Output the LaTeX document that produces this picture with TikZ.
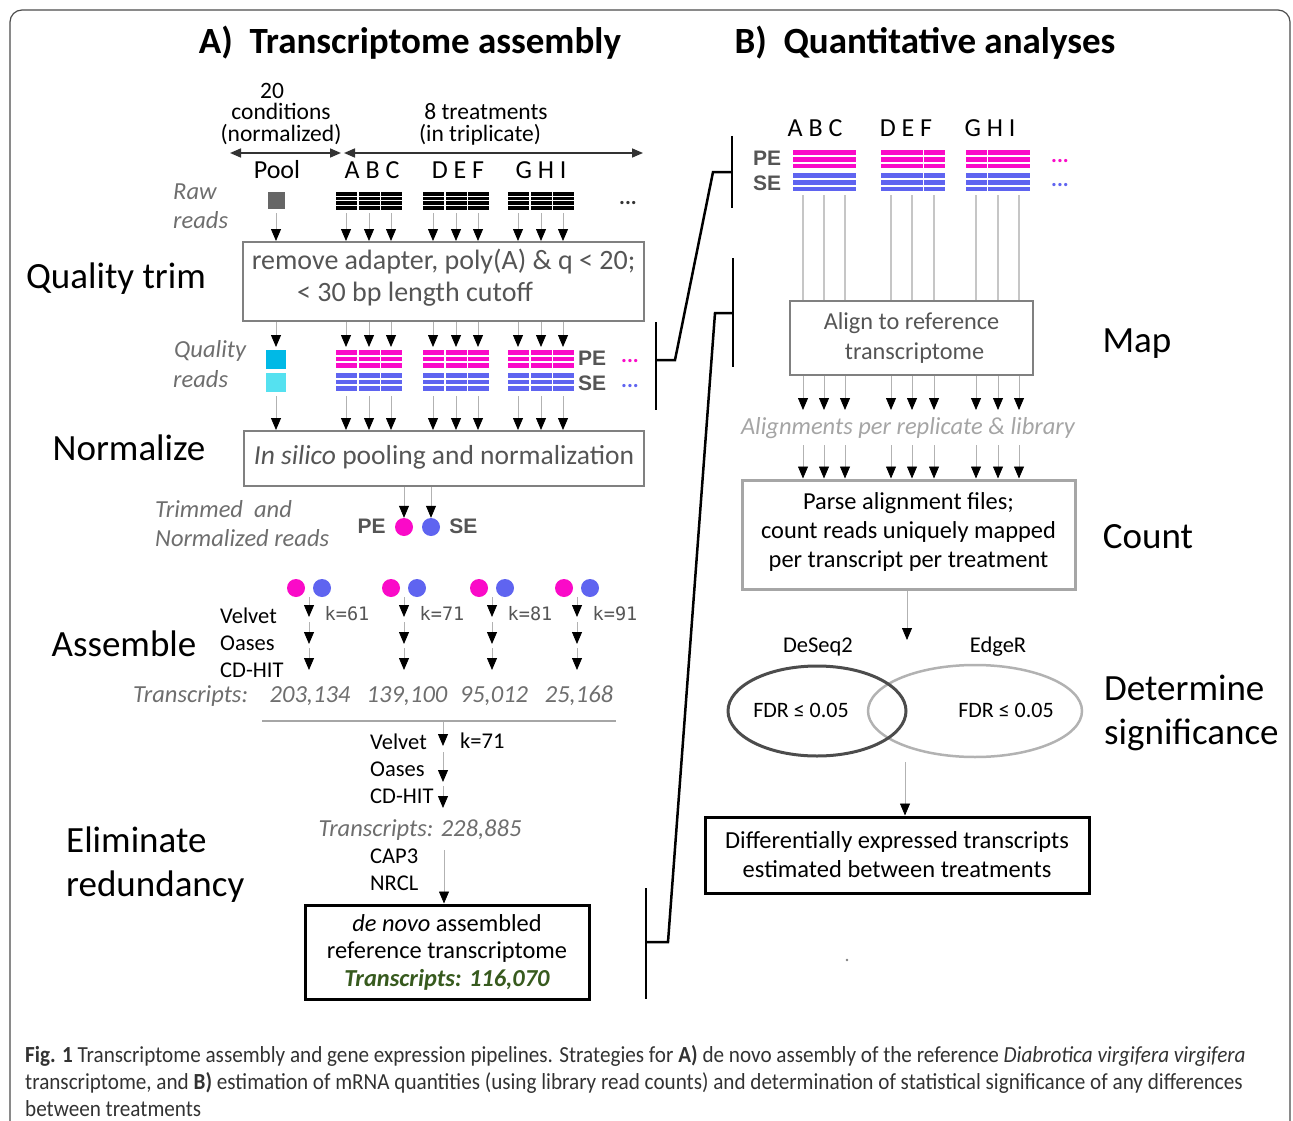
\documentclass[tikz,border=0pt]{standalone}
\usepackage{fontspec}
\setmainfont{Carlito}
\newfontfamily\monofont{DejaVu Sans Mono}
\newfontfamily\arialfont{Liberation Sans}
\newfontfamily\capfont[FakeStretch=0.92]{Carlito}
\usetikzlibrary{arrows.meta,positioning,shapes.geometric}
\definecolor{pemag}{RGB}{250,10,200}
\definecolor{seblue}{RGB}{95,100,240}
\definecolor{boxgray}{RGB}{128,128,128}
\definecolor{txtgray}{RGB}{85,85,85}
\definecolor{litegray}{RGB}{165,165,165}
\definecolor{dkgreen}{RGB}{55,90,30}
\definecolor{cyandk}{RGB}{0,185,230}
\definecolor{cyanlt}{RGB}{85,225,240}
\definecolor{capgray}{RGB}{50,50,50}
\newcommand{\fsz}[1]{\fontsize{#1}{#1}\selectfont}
\tikzset{ht/.style={text height=0.75*#1pt, text depth=0.15*#1pt}}

\begin{document}
\begin{tikzpicture}[x=1pt,y=-1pt]
  \tikzstyle{every node}=[inner sep=0pt]
  \tikzstyle{stage}=[font=\fsz{37}, ht=37]
  \tikzstyle{ttl}=[font=\fsz{37}\bfseries, ht=37]
  \tikzstyle{hdr}=[font=\fsz{23.5}, ht=21]
  \tikzstyle{note}=[font=\fsz{24.5}\itshape, text=txtgray!85, ht=24.5]
  \tikzstyle{tool}=[font=\fsz{22.5}, ht=22.5]
  \tikzstyle{colid}=[font=\fsz{26}, ht=26]
  \tikzstyle{kval}=[font=\monofont\fsz{18.5}, text=txtgray, ht=18.5]
  \tikzstyle{pese}=[font=\arialfont\bfseries\fsz{21}, text=txtgray, ht=21]
  \tikzstyle{dots}=[font=\fsz{22}\bfseries, ht=22]
  \tikzstyle{gbox}=[draw=boxgray, line width=2pt, align=center]
  \tikzstyle{bbox}=[draw=black, line width=3pt, align=center]
  \tikzstyle{arr}=[draw=gray!60, line width=0.8pt, -{Triangle[width=10pt,length=12pt,color=black,fill=black]}]
  \tikzstyle{span}=[draw=black!80, line width=1.6pt, {Triangle[width=9pt,length=11pt]}-{Triangle[width=9pt,length=11pt]}]
  \tikzstyle{dot}=[circle, minimum size=18pt]
  \tikzstyle{brk}=[draw=black, line width=2.5pt]
  \tikzstyle{capline}=[font=\capfont\fsz{23}, text=capgray, anchor=base west]

  \useasboundingbox (0,0) rectangle (1293,1121);
  \draw[black!70, line width=1.2pt, rounded corners=12pt] (10,1130) -- (10,10) -- (1290,10) -- (1290,1130);

  % titles
  \node[ttl] (ta) at (410,42) {A)\hspace{0.45em}Transcriptome assembly};
  \node[ttl] (tb) at (925,42) {B)\hspace{0.45em}Quantitative analyses};

  % ---------------- A) assembly ----------------
  \node[hdr] (cond1) at (272,92) {20};
  \node[hdr] (cond2) at (281,113) {conditions};
  \node[hdr] (cond3) at (281,135) {(normalized)};
  \node[hdr] (treat1) at (486,113) {8 treatments};
  \node[hdr] (treat2) at (480,135) {(in triplicate)};
  \coordinate (pl) at (230,153); \coordinate (pr) at (341,153);
  \coordinate (tl) at (344,153); \coordinate (tr) at (643,153);
  \draw[span] (pl) -- (pr);
  \draw[span] (tl) -- (tr);

  \node[colid] (pool) at (277,171) {Pool};
  \foreach \n/\x [count=\k] in {A B C/372, D E F/458, G H I/541}
    \node[colid] (grp\k) at (\x,171) {\n};

  \node[note, anchor=west] (raw) at (173,192) {Raw};
  \node[note, anchor=west] (rawr) at (173,221) {reads};
  \node[fill=black!60, minimum size=17pt] (psq) at (276,200) {};
  \coordinate (r0) at (276,213);
  \coordinate (qt0) at (276,347);
  \coordinate (qb0) at (276,396);
  \foreach \x [count=\i] in {346,369,391,433,456,478,518,541,563}
  {
    \foreach \y in {192,196.7,201.4,206.1}
      \fill (\x-10.5,\y) rectangle ++(21,3.6);
    \foreach \y in {350,356.5,363}
      \fill[pemag] (\x-10.5,\y) rectangle ++(21,4.6);
    \foreach \y in {373,379.5,386}
      \fill[seblue] (\x-10.5,\y) rectangle ++(21,4.6);
    \coordinate (r\i) at (\x,213);
    \coordinate (qt\i) at (\x,347);
    \coordinate (qb\i) at (\x,396);
  }
  \node[dots, text=black!80] (rmore) at (628,198) {...};

  \node[stage] (qtrim) at (116,277) {Quality trim};
  \node[gbox, minimum width=401pt, minimum height=79pt, font={\fontsize{28}{32}\selectfont}, text=txtgray] (trim) at (443.5,281.5)
    {remove adapter, poly(A) \& q < 20;\\\hspace*{-57pt}< 30 bp length cutoff\rule[-13pt]{0pt}{0pt}};

  \node[note, anchor=west] (qual) at (174,350) {Quality};
  \node[note, anchor=west] (qualr) at (173,380) {reads};
  \node[fill=cyandk, minimum width=20pt, minimum height=19pt] (qsq) at (276,359.5) {};
  \node[fill=cyanlt, minimum width=20pt, minimum height=19pt] (qsq2) at (276,382.5) {};
  \node[pese] (qpe) at (592,359) {PE};
  \node[pese] (qse) at (592,384) {SE};
  \node[dots, text=pemag] (qpd) at (630,356) {...};
  \node[dots, text=seblue] (qsd) at (630,381) {...};

  \node[stage] (nlab) at (129,449) {Normalize};
  \node[gbox, minimum width=400pt, minimum height=55pt, font=\fsz{27.5}, text=txtgray] (norm) at (444,458.5)
    {\textit{In silico} pooling and normalization\rule[-8pt]{0pt}{0pt}};

  \foreach \i in {0,...,9}
  {
    \draw[arr] (r\i) -- (r\i |- trim.north);
    \draw[arr] (qt\i |- trim.south) -- (qt\i);
    \draw[arr] (qb\i) -- (qb\i |- norm.north);
  }

  \node[note, anchor=west] (trm) at (155,510) {Trimmed\ \ and};
  \node[note, anchor=west] (trmn) at (155,539) {Normalized reads};
  \node[dot, fill=pemag] (pe) at (404,527) {};
  \node[dot, fill=seblue] (se) at (431,527) {};
  \node[pese, left=9pt of pe] (pel) {PE};
  \node[pese, right=9pt of se] (sel) {SE};
  \draw[arr] (pe |- norm.south) -- (pe.north);
  \draw[arr] (se |- norm.south) -- (se.north);

  % assemble
  \node[stage] (alab) at (124,645) {Assemble};
  \node[tool, anchor=west] (vel) at (220,617) {Velvet};
  \node[tool, anchor=west] (oas) at (220,644) {Oases};
  \node[tool, anchor=west] (cdh) at (220,671) {CD-HIT};
  \foreach \x/\k [count=\i] in {309/61, 404/71, 492/81, 577/91}
  {
    \node[dot, fill=pemag] (m\i) at (\x-13,588) {};
    \node[dot, fill=seblue] (b\i) at (\x+13,588) {};
    \coordinate (a\i) at (\x,597);
    \coordinate (v\i) at (\x,617);
    \coordinate (o\i) at (\x,622);
    \coordinate (w\i) at (\x,644);
    \coordinate (c\i) at (\x,648);
    \coordinate (h\i) at (\x,670);
    \draw[arr] (a\i) -- (v\i);
    \draw[arr] (o\i) -- (w\i);
    \draw[arr] (c\i) -- (h\i);
    \node[kval] (k\i) at (\x+38,615) {k=\k};
  }
  \node[note, anchor=west] (trs) at (133,695) {Transcripts:};
  \foreach \x/\t [count=\i] in {310/{203,134}, 407/{139,100}, 494/{95,012}, 579/{25,168}}
    \node[note] (tn\i) at (\x,695) {\t};

  % eliminate redundancy
  \coordinate (hl) at (262,721); \coordinate (hr) at (616,721);
  \draw[gray!70, line width=1.5pt] (hl) -- (hr);
  \node[stage, anchor=west] (elab) at (66,841) {Eliminate};
  \node[stage, anchor=west] (elab2) at (66,885) {redundancy};
  \node[tool, anchor=west] (vel2) at (370,743) {Velvet};
  \node[tool, anchor=west] (k71) at (460,742) {k=71};
  \node[tool, anchor=west] (oas2) at (370,770) {Oases};
  \node[tool, anchor=west] (cdh2) at (370,797) {CD-HIT};
  \node[note] (trs2) at (420,829) {Transcripts: 228,885};
  \node[tool, anchor=west] (cap) at (370,857) {CAP3};
  \node[tool, anchor=west] (nrcl) at (370,884) {NRCL};
  \coordinate (e0) at (443,722); \coordinate (e1) at (443,746);
  \coordinate (e2) at (443,752); \coordinate (e3) at (443,782);
  \coordinate (e4) at (443,786); \coordinate (e5) at (443,808);
  \coordinate (e6) at (444,850);
  \draw[arr] (e0) -- (e1);
  \draw[arr] (e2) -- (e3);
  \draw[arr] (e4) -- (e5);
  \node[bbox, minimum width=284pt, minimum height=94pt, font={\fontsize{24.4}{27.5}\selectfont}] (ref) at (447,952)
    {\textit{de novo} assembled\\reference transcriptome\\\textcolor{dkgreen}{\textbf{\textit{Transcripts: 116,070}}}};
  \draw[arr] (e6) -- (e6 |- ref.north);

  % brackets
  \draw[brk] (656,322) -- (656,410);
  \draw[brk] (656,360) -- (675,360) -- (713,172) -- (732,172);
  \draw[brk] (732,136) -- (732,208);
  \draw[brk] (646,888) -- (646,999);
  \draw[brk] (646,942) -- (668,942) -- (715,313) -- (733,313);
  \draw[brk] (733,258) -- (733,367);

  % ---------------- B) quantitative ----------------
  \foreach \n/\x [count=\k] in {A B C/815, D E F/906, G H I/990}
    \node[colid] (bgrp\k) at (\x,129) {\n};
  \node[pese] (bpe) at (767,159) {PE};
  \node[pese] (bse) at (767,184) {SE};
  \node[dots, text=pemag] (bpd) at (1060,156) {...};
  \node[dots, text=seblue] (bsd) at (1060,180) {...};

  \node[gbox, minimum width=243pt, minimum height=74pt, font={\fontsize{24.3}{30}\selectfont}, text=txtgray] (align) at (911.5,338)
    {Align to reference\\\hspace*{6pt}transcriptome};
  \node[stage] (mlab) at (1137,341) {Map};
  \node[note, text=litegray] (alns) at (908,427) {Alignments per replicate \& library};
  \node[gbox, draw=gray!70, line width=3pt, minimum width=333pt, minimum height=109pt, font={\fontsize{24.4}{29}\selectfont}] (count) at (908.5,534.5)
    {Parse alignment files;\\count reads uniquely mapped\\per transcript per treatment\rule[-9pt]{0pt}{0pt}};
  \node[stage] (clab) at (1148,537) {Count};

  \foreach \x [count=\i] in {803,824,845,891,912,934,976,998,1019}
  {
    \foreach \y in {150,156.8,163.6}
      \fill[pemag] (\x-10.5,\y) rectangle ++(21,4.8);
    \foreach \y in {173,179.8,186.6}
      \fill[seblue] (\x-10.5,\y) rectangle ++(21,4.8);
    \coordinate (s\i) at (\x,195);
    \coordinate (al\i) at (\x,410);
    \coordinate (ac\i) at (\x,445);
    \draw[gray!45, line width=1.2pt] (s\i) -- (s\i |- align.north);
    \draw[arr] (al\i |- align.south) -- (al\i);
    \draw[arr] (ac\i) -- (ac\i |- count.north);
  }

  \coordinate (dq) at (907,640);
  \draw[arr] (count.south -| dq) -- (dq);
  \node[tool] (dsq) at (818,646) {DeSeq2};
  \node[tool] (edg) at (998,646) {EdgeR};
  \node[ellipse, draw=gray!60, line width=2.5pt, minimum width=214pt, minimum height=92pt] (edger) at (975,711) {};
  \node[ellipse, draw=black!70, line width=3pt, minimum width=178pt, minimum height=90pt] (deseq) at (817,711) {};
  \node[font=\fsz{22}, ht=22] (fdr1) at (801,711) {FDR ≤ 0.05};
  \node[font=\fsz{22}, ht=22] (fdr2) at (1006,711) {FDR ≤ 0.05};
  \node[stage, anchor=west] (slab) at (1104,689) {Determine};
  \node[stage, anchor=west] (slab2) at (1104,733) {significance};

  \node[bbox, minimum width=384pt, minimum height=76pt, font={\fontsize{24.5}{29}\selectfont}] (dex) at (897,855)
    {Differentially expressed transcripts\\estimated between treatments};
  \coordinate (fd) at (905,762);
  \draw[arr] (fd) -- (fd |- dex.north);
  \fill[gray] (847,960) circle (1.3);

  % caption
  \node[capline] (cap1) at (25,1062)
    {\textbf{Fig. 1} Transcriptome assembly and gene expression pipelines. Strategies for \textbf{A)} de novo assembly of the reference \textit{Diabrotica virgifera virgifera}};
  \node[capline] (cap2) at (25,1089)
    {transcriptome, and \textbf{B)} estimation of mRNA quantities (using library read counts) and determination of statistical significance of any differences};
  \node[capline] (cap3) at (25,1116)
    {between treatments};
\end{tikzpicture}
\end{document}
